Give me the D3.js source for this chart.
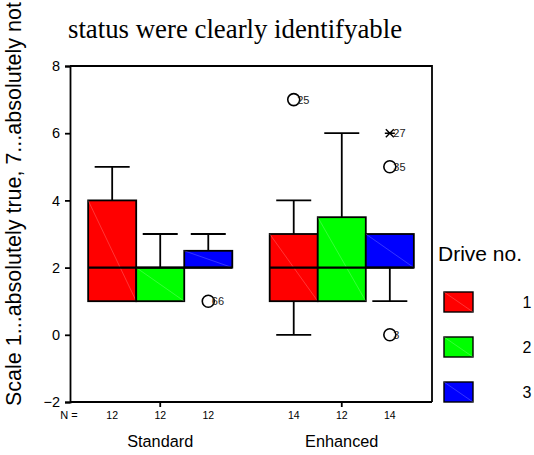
<!DOCTYPE html>
<html><head><meta charset="utf-8">
<script src="https://cdn.jsdelivr.net/npm/d3@7"></script>
<style>body{margin:0;background:#fff}svg{display:block}</style>
</head><body>
<svg id="c" width="534" height="455"></svg>
<script>
const groups = ["Standard", "Enhanced"];
const drives = ["1", "2", "3"];
const driveColors = ["#ff0000", "#00ff00", "#0000ff"];
// [group, drive, whiskerLow, q1, median, q3, whiskerHigh, N]
const boxStats = [
  ["Standard", "1", 1, 1, 2, 4, 5, 12],
  ["Standard", "2", 1, 1, 2, 2, 3, 12],
  ["Standard", "3", 2, 2, 2, 2.5, 3, 12],
  ["Enhanced", "1", 0, 1, 2, 3, 4, 14],
  ["Enhanced", "2", 1, 1, 2, 3.5, 6, 12],
  ["Enhanced", "3", 1, 2, 2, 3, 3, 14]
];
// [group, drive, value, label, kind]
const outliers = [
  ["Standard", "3", 1, "66", "o"],
  ["Enhanced", "1", 7, "25", "o"],
  ["Enhanced", "3", 6, "27", "*"],
  ["Enhanced", "3", 5, "35", "o"],
  ["Enhanced", "3", 0, "3", "o"]
];
const yTicks = [-2, 0, 2, 4, 6, 8];
const title = "status were clearly identifyable";
const yLabel = "Scale 1...absolutely true, 7...absolutely not";
const legendTitle = "Drive no.";

const svg = d3.select("#c");
const L = 70, R = 432, T = 66, B = 402;
const y = d3.scaleLinear().domain([-2, 8]).range([B, T]);
const xg = d3.scaleBand().domain(groups).range([L, R]).paddingInner(0.206).paddingOuter(0.1);
const xd = d3.scaleBand().domain(drives).range([0, xg.bandwidth()]);
const color = d3.scaleOrdinal().domain(drives).range(driveColors);
const font = "Liberation Sans, Arial, sans-serif";
const SW = 1.8;

// frame
svg.append("path").attr("d", `M${L},${T}H${R}V${B}`).attr("fill", "none").attr("stroke", "#000").attr("stroke-width", SW);

// y axis
const ya = svg.append("g").attr("transform", `translate(${L},0)`)
  .call(d3.axisLeft(y).tickValues(yTicks).tickSize(5).tickPadding(5).tickFormat(d3.format("d")));
ya.select(".domain").attr("stroke-width", SW);
ya.selectAll(".tick line").attr("stroke-width", SW);
ya.selectAll("text").attr("font-family", font).attr("font-size", 14.5).attr("fill", "#000");

// x axis
const xa = svg.append("g").attr("transform", `translate(0,${B})`)
  .call(d3.axisBottom(xg).tickSize(5).tickFormat(""));
xa.select(".domain").attr("d", `M${L},0H${R}`).attr("stroke-width", SW);
xa.selectAll(".tick line").attr("stroke-width", SW);

// category labels
svg.selectAll(".cat").data(groups).join("text")
  .attr("x", d => xg(d) + xg.bandwidth() / 2).attr("y", 447)
  .attr("text-anchor", "middle").attr("font-family", font).attr("font-size", 16.3).text(d => d);

// N row
svg.append("text").attr("x", 69).attr("y", 419).attr("text-anchor", "middle")
  .attr("font-family", font).attr("font-size", 11).text("N =");
svg.selectAll(".n").data(boxStats).join("text")
  .attr("x", d => xg(d[0]) + xd(d[1]) + xd.bandwidth() / 2).attr("y", 419)
  .attr("text-anchor", "middle").attr("font-family", font).attr("font-size", 10.5).text(d => d[7]);

// boxes
const cap = 35;
const bx = svg.append("g");
boxStats.forEach(d => {
  const x0 = xg(d[0]) + xd(d[1]), w = xd.bandwidth(), cx = x0 + w / 2;
  const g = bx.append("g");
  if (d[6] > d[5]) {
    g.append("line").attr("x1", cx).attr("x2", cx).attr("y1", y(d[5])).attr("y2", y(d[6])).attr("stroke", "#000").attr("stroke-width", SW);
    g.append("line").attr("x1", cx - cap / 2).attr("x2", cx + cap / 2).attr("y1", y(d[6])).attr("y2", y(d[6])).attr("stroke", "#000").attr("stroke-width", SW);
  }
  if (d[2] < d[3]) {
    g.append("line").attr("x1", cx).attr("x2", cx).attr("y1", y(d[3])).attr("y2", y(d[2])).attr("stroke", "#000").attr("stroke-width", SW);
    g.append("line").attr("x1", cx - cap / 2).attr("x2", cx + cap / 2).attr("y1", y(d[2])).attr("y2", y(d[2])).attr("stroke", "#000").attr("stroke-width", SW);
  }
  g.append("rect").attr("x", x0).attr("y", y(d[5])).attr("width", w).attr("height", y(d[3]) - y(d[5]))
    .attr("fill", color(d[1])).attr("stroke", "#000").attr("stroke-width", SW);
  g.append("line").attr("x1", x0).attr("y1", y(d[5])).attr("x2", x0 + w).attr("y2", y(d[3]))
    .attr("stroke", "#fff").attr("stroke-opacity", 0.3).attr("stroke-width", 0.7);
  g.append("line").attr("x1", x0).attr("x2", x0 + w).attr("y1", y(d[4])).attr("y2", y(d[4])).attr("stroke", "#000").attr("stroke-width", 2.4);
});

// outliers
outliers.forEach(d => {
  const cx = xg(d[0]) + xd(d[1]) + xd.bandwidth() / 2, cy = y(d[2]);
  if (d[4] === "o") {
    svg.append("circle").attr("cx", cx).attr("cy", cy).attr("r", 6).attr("fill", "none").attr("stroke", "#000").attr("stroke-width", 1.6);
  } else {
    svg.append("path").attr("d", `M${cx - 5},${cy}H${cx + 5}M${cx - 4},${cy - 4}L${cx + 4},${cy + 4}M${cx - 4},${cy + 4}L${cx + 4},${cy - 4}`)
      .attr("stroke", "#000").attr("stroke-width", 1.4);
  }
  svg.append("text").attr("x", cx + 3.5).attr("y", cy + 4).attr("font-family", font).attr("font-size", 11).attr("fill", "#222").text(d[3]);
});

// title
svg.append("text").attr("x", 68).attr("y", 38).attr("font-family", "Liberation Serif, Times New Roman, serif").attr("font-size", 26.8).text(title);

// y label
svg.append("text").attr("transform", "translate(21,406) rotate(-90)").attr("font-family", font).attr("font-size", 21.5).text(yLabel);

// legend
svg.append("text").attr("x", 438).attr("y", 261).attr("font-family", font).attr("font-size", 21).text(legendTitle);
const lg = svg.selectAll(".lg").data(drives).join("g").attr("transform", (d, i) => `translate(444,${292 + i * 45})`);
lg.append("rect").attr("width", 29).attr("height", 20).attr("fill", d => color(d)).attr("stroke", "#000").attr("stroke-width", 1.4);
lg.append("line").attr("x1", 0).attr("y1", 0).attr("x2", 29).attr("y2", 20).attr("stroke", "#fff").attr("stroke-opacity", 0.3).attr("stroke-width", 0.7);
lg.append("text").attr("x", 83).attr("y", 16).attr("text-anchor", "middle").attr("font-family", font).attr("font-size", 16).text(d => d);
</script>
</body></html>
